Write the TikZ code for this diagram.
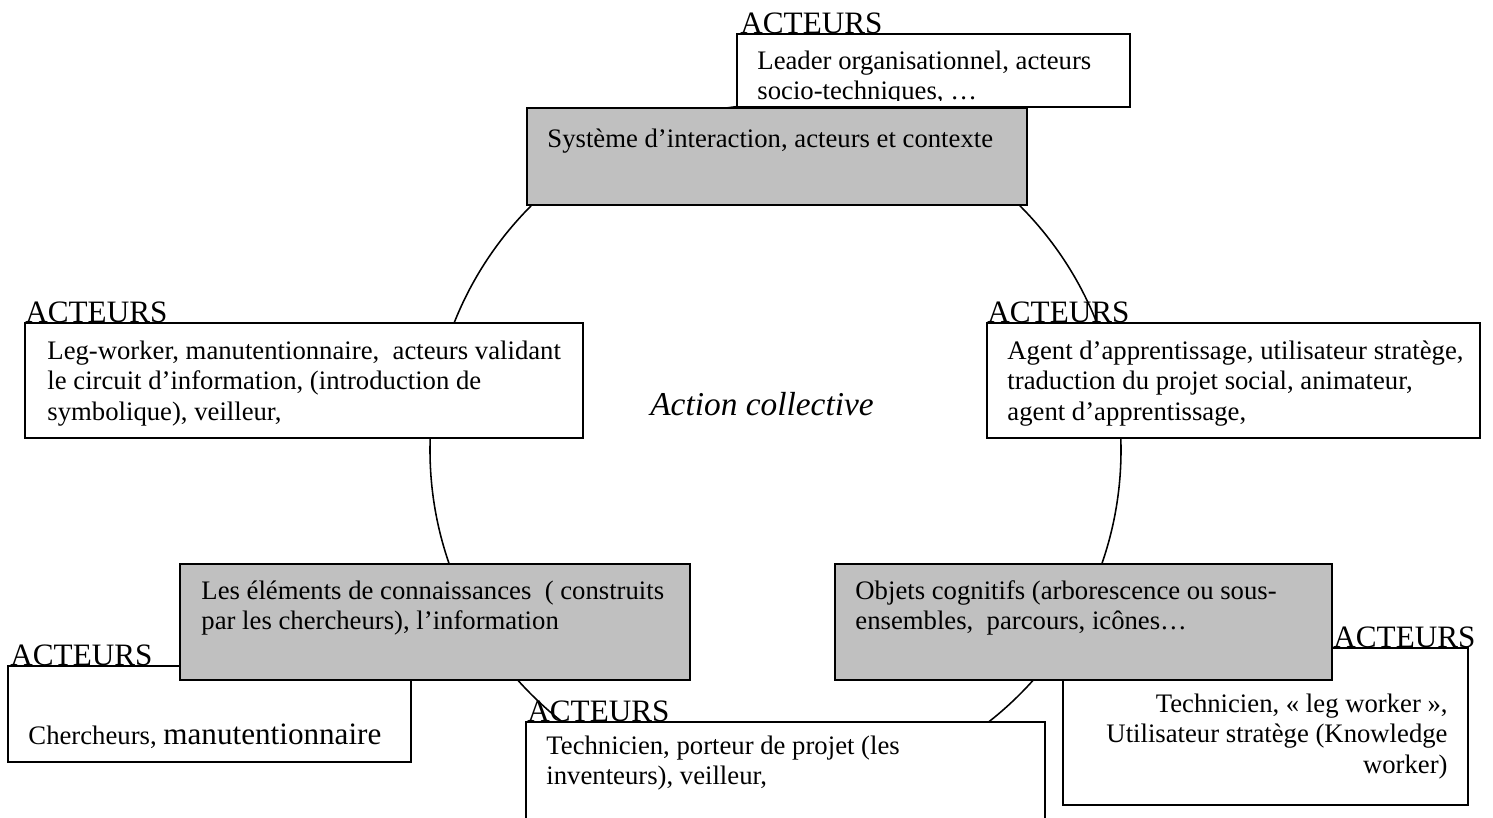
\documentclass[tikz,border=0pt]{standalone}
\usepackage{fontspec}
\setmainfont{Liberation Serif}
\usetikzlibrary{fit}
\definecolor{boxgray}{RGB}{192,192,192}
\newcommand\bodyfont{\fontsize{12}{13.7}\selectfont}
\newcommand\actfont{\fontsize{14}{16}\selectfont}
\tikzset{
  whitebox/.style={draw, fill=white, line width=0.75pt, inner sep=0pt},
  graybox/.style={draw, fill=boxgray, line width=0.75pt, inner sep=0pt},
  txt/.style={anchor=north west, inner sep=0pt, align=left, font=\bodyfont},
  txtr/.style={anchor=north east, inner sep=0pt, align=right, font=\bodyfont},
  actlabel/.style={anchor=base west, inner sep=0pt, font=\actfont},
  ring/.style={line width=0.7pt},
}
\begin{document}
\begin{tikzpicture}[x=0.4494pt,y=-0.4494pt]
\useasboundingbox (0,0) rectangle (1493,817);
% circle
\coordinate (center) at (775.5,450);
\draw[ring] (center) circle[radius=155.27pt];
% top boxes
\node[whitebox, fit={(737,34) (1130,107)}] (leaderbox) {};
\begin{scope}
  \clip (737,34) rectangle (1130,100);
  \node[txt] (leadertxt) at (757,47.7) {\strut Leader organisationnel, acteurs\\socio-techniques, …};
\end{scope}
\node[graybox, fit={(527,108) (1027,205)}] (systeme) {};
% middle boxes
\node[whitebox, fit={(25,323) (583,438)}] (legbox) {};
\node[whitebox, fit={(987,323) (1480,438)}] (agentbox) {};
% bottom left
\node[whitebox, fit={(8,666) (411,762)}] (chercheursbox) {};
\node[graybox, fit={(180,564) (690,680)}] (elements) {};
% bottom right
\node[whitebox, fit={(1063,648) (1468,805)}] (rightbox) {};
\node[graybox, fit={(835,564) (1332,680)}] (objets) {};
% bottom centre
\node[whitebox, fit={(526,722) (1045,830)}] (technbox) {};
% texts
\node[txt] (systemetxt) at (547,125.7) {\strut Système d’interaction, acteurs et contexte};
\node[txt] (legtxt) at (47,337.7) {\strut Leg-worker, manutentionnaire,\ \ acteurs validant\\le circuit d’information, (introduction de\\symbolique), veilleur,};
\node[txt] (agenttxt) at (1007,337.7) {\strut Agent d’apprentissage, utilisateur stratège,\\traduction du projet social, animateur,\\agent d’apprentissage,};
\node[txt] (elementstxt) at (201,577.7) {\strut Les éléments de connaissances\ \ ( construits\\par les chercheurs), l’information};
\node[txt] (objetstxt) at (855,577.7) {\strut Objets cognitifs (arborescence ou sous-\\ensembles,\ \ parcours, icônes…};
\node[txt] (chercheurstxt) at (28,722.7) {\strut Chercheurs, {\fontsize{14}{16}\selectfont manutentionnaire}};
\node[txt] (techntxt) at (546,732.7) {\strut Technicien, porteur de projet (les\\inventeurs), veilleur,};
\node[txtr] (righttxt) at (1448,690.7) {\strut Technicien, «~leg worker~»,\\Utilisateur stratège (Knowledge\\worker)};
\node[anchor=base, inner sep=0pt, font=\fontsize{15}{18}\selectfont\itshape] (action) at (762,415) {Action collective};
% ACTEURS labels
\node[actlabel] (act1) at (740,33) {ACTEURS};
\node[actlabel] (act2) at (25,322) {ACTEURS};
\node[actlabel] (act3) at (987,322) {ACTEURS};
\node[actlabel] (act4) at (10,665) {ACTEURS};
\node[actlabel] (act5) at (527,721) {ACTEURS};
\node[actlabel] (act6) at (1333,647) {ACTEURS};
\end{tikzpicture}
\end{document}
